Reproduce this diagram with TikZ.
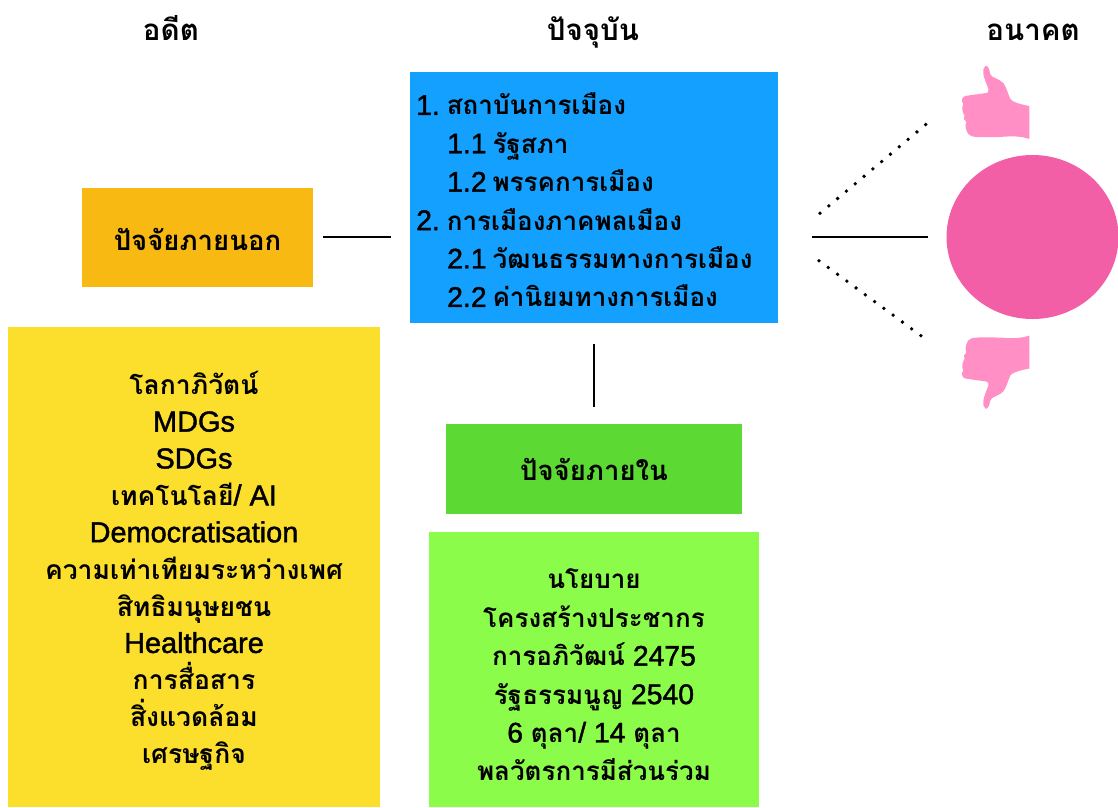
\documentclass[tikz,border=0pt]{standalone}
\usepackage{fontspec}
\setmainfont[Script=Thai]{Loma}
\newfontfamily\enfont[Scale=1.09,FakeBold=1.5]{Liberation Sans}
\usetikzlibrary{shapes.geometric}
\definecolor{extcol}{HTML}{F8B912}
\definecolor{worldcol}{HTML}{FCDF2D}
\definecolor{polcol}{HTML}{14A0FF}
\definecolor{intcol}{HTML}{5DD934}
\definecolor{homecol}{HTML}{8CFC4A}
\definecolor{futcol}{HTML}{F25FA6}
\definecolor{thumbcol}{HTML}{FF8FC4}
\newcommand{\en}[1]{{\enfont\mdseries #1}}
\newcommand{\ind}{\hspace*{31pt}}
\newcommand{\rulelink}[2]{\draw[line width=2pt] (#1) -- (#2);}
\tikzset{
  box/.style={rectangle,inner sep=0pt,anchor=north west},
  title/.style={font=\fontsize{27.5}{37}\selectfont\bfseries},
  head/.style={font=\fontsize{29.5}{37}\selectfont\bfseries,anchor=base},
  worldtxt/.style={font=\fontsize{26.5}{36.9}\selectfont\bfseries,align=center},
  listtxt/.style={font=\fontsize{26}{38.4}\selectfont\bfseries,align=left},
  dots/.style={line width=3.8pt,line cap=round,dash pattern=on 0pt off 11.5pt},
  thumb/.pic={\fill[thumbcol] (0,0) .. controls (-10,-2) and (-17,-4) .. (-19,-7)
    .. controls (-22,-14) and (-23,-19) .. (-26,-23) .. controls (-31,-28) and (-38,-28) .. (-39,-32)
    .. controls (-40,-38) and (-42,-41) .. (-44,-40) .. controls (-48,-36) and (-46,-30) .. (-42,-20)
    .. controls (-40,-16) and (-41,-13) .. (-43,-13) .. controls (-50,-12) and (-58,-11) .. (-64,-10)
    .. controls (-68,-9) and (-68,-4) .. (-66,-2) .. controls (-68,1) and (-67,7) .. (-65,9)
    .. controls (-66,12) and (-65,15) .. (-63,16) .. controls (-65,20) and (-63,25) .. (-61,28)
    .. controls (-58,32) and (-50,31) .. (-30,31) .. controls (-18,30) and (-8,30) .. (0,33) -- cycle;}
}
\begin{document}
\begin{tikzpicture}[x=1pt,y=-1pt]
    \useasboundingbox (0,0) rectangle (1118,807);
    \node[head] (past) at (171,40) {อดีต}; \node[head] (now) at (593,40) {ปัจจุบัน}; \node[head] (later) at (1033,40) {อนาคต};
    \node[box,fill=extcol,minimum width=231pt,minimum height=99pt] (ext) at (82,188) {};
    \node[title] (exttxt) at (197.5,239) {ปัจจัยภายนอก};
    \node[box,fill=worldcol,minimum width=372pt,minimum height=480pt] (world) at (8,327) {};
    \node[worldtxt] (worldlist) at (194,571) {โลกาภิวัตน์\\ \en{MDGs}\\ \en{SDGs}\\ เทคโนโลยี\en{/ AI}\\ \en{Democratisation}\\ ความเท่าเทียมระหว่างเพศ\\ สิทธิมนุษยชน\\ \en{Healthcare}\\ การสื่อสาร\\ สิ่งแวดล้อม\\ เศรษฐกิจ};
    \node[box,fill=polcol,minimum width=368pt,minimum height=251pt] (pol) at (410,72) {};
    \node[listtxt,anchor=west,inner xsep=0pt] (pollist) at (416,200) {\en{1.}\hspace{7pt}สถาบันการเมือง\\ \ind\en{1.1}\hspace{6pt}รัฐสภา\\ \ind\en{1.2}\hspace{6pt}พรรคการเมือง\\ \en{2.}\hspace{7pt}การเมืองภาคพลเมือง\\ \ind\en{2.1}\hspace{6pt}วัฒนธรรมทางการเมือง\\ \ind\en{2.2}\hspace{6pt}ค่านิยมทางการเมือง};
    \node[box,fill=intcol,minimum width=296pt,minimum height=90pt] (inner) at (446,424) {};
    \node[title] (innertxt) at (594,469.5) {ปัจจัยภายใน};
    \node[box,fill=homecol,minimum width=330pt,minimum height=275pt] (home) at (429,532) {};
    \node[listtxt,align=center] (homelist) at (594,675) {นโยบาย\\ โครงสร้างประชากร\\ การอภิวัฒน์\en{ 2475}\\ รัฐธรรมนูญ\en{ 2540}\\ \en{6 }ตุลา\en{/ 14 }ตุลา\\ พลวัตรการมีส่วนร่วม};
    \node[ellipse,fill=futcol,inner sep=0pt,minimum width=172pt,minimum height=164pt] (fut) at (1032.5,237) {};
    \pic at (1029.3,106) {thumb};
    \pic[yscale=-1] at (1029.3,368.5) {thumb};
    % links stop short of the boxes
    \coordinate (extend) at (323,237); \coordinate (polin) at (391,237);
    \coordinate (polout) at (812,237); \coordinate (futin) at (928,237);
    \coordinate (polbot) at (594,344); \coordinate (inntop) at (594,407);
    \coordinate (upa) at (820,213.3); \coordinate (upb) at (926,124.3);
    \coordinate (dna) at (819,260.7); \coordinate (dnb) at (921,335.7);
    \rulelink{extend}{polin}\rulelink{polout}{futin}\rulelink{polbot}{inntop}
    \draw[dots] (upa) -- (upb);
    \draw[dots] (dna) -- (dnb);
\end{tikzpicture}
\end{document}
